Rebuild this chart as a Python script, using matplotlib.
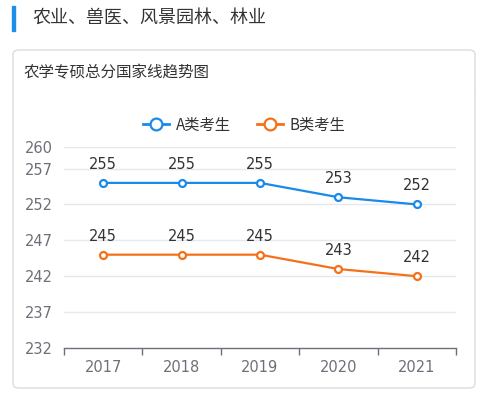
import matplotlib.pyplot as plt
from matplotlib.patches import FancyBboxPatch, Rectangle
from matplotlib.lines import Line2D

plt.rcParams['font.family'] = ['Noto Sans CJK SC', 'DejaVu Sans']

years = ['2017', '2018', '2019', '2020', '2021']
score_a = [255, 255, 255, 253, 252]
score_b = [245, 245, 245, 243, 242]
series_names = ['A类考生', 'B类考生']
y_ticks = [232, 237, 242, 247, 252, 257, 260]

BLUE = '#1a8aea'
ORANGE = '#f4711a'
GRAY = '#6e7079'

W, H = 480, 396
fig = plt.figure(figsize=(4.8, 3.96), dpi=100)

# heading with blue bar
fig.patches.append(Rectangle((12 / W, 1 - 31 / H), 3 / W, 25 / H, transform=fig.transFigure,
                             color='#1e8fe8', zorder=-1))
fig.text(32 / W, 1 - 18 / H, '农业、兽医、风景园林、林业', fontsize=13, color='#333333',
         va='center', ha='left')

# card
fig.patches.append(FancyBboxPatch((13 / W, 8 / H), 462 / W, 338 / H,
                                  boxstyle='round,pad=0,rounding_size=0.012',
                                  transform=fig.transFigure, facecolor='white',
                                  edgecolor='#dcdcdc', linewidth=1.0, zorder=-1))
fig.lines.append(Line2D([13 / W, 475 / W], [1 - 93 / H, 1 - 93 / H], transform=fig.transFigure,
                        color='#e2e2e2', linewidth=0.9, zorder=-1))
fig.text(24 / W, 1 - 73 / H, '农学专硕总分国家线趋势图', fontsize=11.2, color='#333333',
         va='center', ha='left')

ax = fig.add_axes([64 / W, 48 / H, 392 / W, 201 / H])
ax.patch.set_alpha(0)
x = range(len(years))
for vals, color, name in [(score_a, BLUE, series_names[0]), (score_b, ORANGE, series_names[1])]:
    ax.plot(x, vals, color=color, linewidth=1.6, marker='o', markersize=5,
            markerfacecolor='white', markeredgecolor=color, markeredgewidth=1.6,
            label=name, zorder=3)
    for xi, v in zip(x, vals):
        ax.annotate(str(v), (xi, v), xytext=(0, 8), textcoords='offset points',
                    ha='center', va='bottom', fontsize=10.5, color='#333333',
                    family='DejaVu Sans')

ax.set_xlim(-0.5, len(years) - 0.5)
ax.set_ylim(232, 260)
ax.set_yticks(y_ticks)
ax.set_yticklabels([str(t) for t in y_ticks], family='DejaVu Sans')
ax.set_xticks(list(x))
ax.set_xticklabels(years, family='DejaVu Sans')
ax.set_xticks([i - 0.5 for i in range(len(years) + 1)], minor=True)

for t in y_ticks[1:]:
    ax.axhline(t, color='#e6e8f0', linewidth=1.0, zorder=1)

for s in ['top', 'right', 'left']:
    ax.spines[s].set_visible(False)
ax.spines['bottom'].set_color(GRAY)
ax.spines['bottom'].set_linewidth(1.0)

ax.tick_params(axis='y', length=0, pad=8, labelsize=10.5, labelcolor=GRAY)
ax.tick_params(axis='x', which='major', length=0, pad=9, labelsize=10.5, labelcolor=GRAY)
ax.tick_params(axis='x', which='minor', length=5, width=1.0, color=GRAY)

leg = fig.legend(loc='center', bbox_to_anchor=(244 / W, 1 - 125 / H), ncol=2, frameon=False,
                 fontsize=11, handlelength=1.7, columnspacing=1.7, handletextpad=0.45,
                 markerscale=1.7, labelcolor='#333333')
for h in leg.legend_handles:
    h.set_linewidth(2.0)

fig.savefig('out.png', dpi=100)
